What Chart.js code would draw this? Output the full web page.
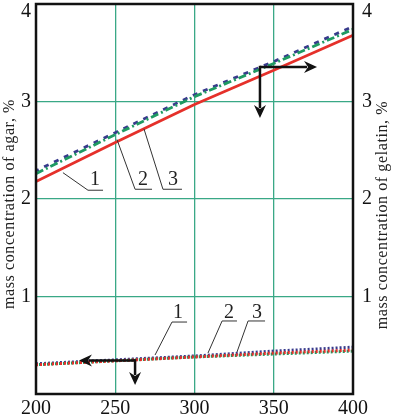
<!DOCTYPE html>
<html><head><meta charset="utf-8">
<script src="https://cdn.jsdelivr.net/npm/chart.js@4/dist/chart.umd.min.js"></script>
<style>html,body{margin:0;padding:0;background:#fff}#wrap{width:394px;height:416px}</style>
</head><body><div id="wrap"><canvas id="c" width="394" height="416"></canvas></div>
<script>
// ---- data ----
const temperature = [200, 250, 300, 350, 400];
const gelatin1 = [2.18, 2.58, 2.97, 3.32, 3.68];
const gelatin2 = [2.26, 2.66, 3.05, 3.39, 3.74];
const gelatin3 = [2.29, 2.68, 3.07, 3.41, 3.77];
const agar1 = [0.30, 0.34, 0.38, 0.42, 0.45];
const agar2 = [0.30, 0.34, 0.38, 0.41, 0.44];
const agar3 = [0.31, 0.35, 0.39, 0.44, 0.48];
const xTickValues = [200, 250, 300, 350, 400];
const yTickValues = [1, 2, 3, 4];
const leftTitle = 'mass concentration of agar, %';
const rightTitle = 'mass concentration of gelatin, %';
const curveNames = ['1', '2', '3'];

// annotation anchors, in data units (x, value)
const gelatinLeaders = [
  {start: [217, 2.27], elbow: [232.8, 2.09], end: 242.3, text: [237.2, 2.195]},
  {start: [251.1, 2.61], elbow: [262.5, 2.10], end: 273.2, text: [267.5, 2.195]},
  {start: [268.1, 2.72], elbow: [280.1, 2.10], end: 292.1, text: [286.4, 2.195]}
];
const agarLeaders = [
  {start: [275.1, 0.40], elbow: [285.8, 0.738], end: 295.3, text: [289.6, 0.83]},
  {start: [308.5, 0.42], elbow: [317.4, 0.749], end: 326.8, text: [321.8, 0.83]},
  {start: [326.8, 0.43], elbow: [333.8, 0.749], end: 344.5, text: [339.4, 0.83]}
];
const gelatinArrows = {origin: [341.3, 3.354], tipX: 377.3, tipY: 2.83};
const agarArrows = {origin: [262.5, 0.344], tipX: 227.1, tipY: 0.092};

const RED = '#e5302a', GREEN = '#1f9a62', NAVY = '#383a8c', GRID = '#3aa886';
const SERIF = '"Liberation Serif", "Times New Roman", serif';

function pts(vals){ return temperature.map((t,i)=>({x:t, y:vals[i]})); }

function arrowHead(ctx, x, y, dx, dy){
  const L = 13, W = 6, N = 9;
  const px = -dy, py = dx;
  ctx.beginPath();
  ctx.moveTo(x, y);
  ctx.lineTo(x - dx*L + px*W, y - dy*L + py*W);
  ctx.lineTo(x - dx*N, y - dy*N);
  ctx.lineTo(x - dx*L - px*W, y - dy*L - py*W);
  ctx.closePath();
  ctx.fill();
}

const decor = {
  id: 'decor',
  afterDatasetsDraw(chart){
    const {ctx, chartArea: a, scales} = chart;
    const x = scales.x, yl = scales.y, yr = scales.y1;
    ctx.save();
    // frame
    ctx.strokeStyle = '#111'; ctx.lineWidth = 2.5;
    ctx.strokeRect(a.left, a.top, a.right - a.left, a.bottom - a.top);
    // leaders + labels
    function leaders(list, ys){
      list.forEach((l, i) => {
        ctx.strokeStyle = '#333'; ctx.lineWidth = 1;
        ctx.beginPath();
        ctx.moveTo(x.getPixelForValue(l.start[0]), ys.getPixelForValue(l.start[1]));
        ctx.lineTo(x.getPixelForValue(l.elbow[0]), ys.getPixelForValue(l.elbow[1]));
        ctx.lineTo(x.getPixelForValue(l.end), ys.getPixelForValue(l.elbow[1]));
        ctx.stroke();
        ctx.fillStyle = '#222';
        ctx.font = '20px ' + SERIF;
        ctx.textAlign = 'center'; ctx.textBaseline = 'middle';
        ctx.fillText(curveNames[i], x.getPixelForValue(l.text[0]), ys.getPixelForValue(l.text[1]));
      });
    }
    leaders(gelatinLeaders, yr);
    leaders(agarLeaders, yl);
    // arrows
    function arrows(ar, ys){
      const ox = x.getPixelForValue(ar.origin[0]), oy = ys.getPixelForValue(ar.origin[1]);
      const tx = x.getPixelForValue(ar.tipX), ty = ys.getPixelForValue(ar.tipY);
      ctx.strokeStyle = '#111'; ctx.fillStyle = '#111'; ctx.lineWidth = 2.5;
      const hd = Math.sign(tx - ox);
      ctx.beginPath(); ctx.moveTo(ox, oy); ctx.lineTo(tx - hd*10, oy); ctx.stroke();
      arrowHead(ctx, tx, oy, hd, 0);
      ctx.beginPath(); ctx.moveTo(ox, oy - 1.2); ctx.lineTo(ox, ty - 10); ctx.stroke();
      arrowHead(ctx, ox, ty, 0, 1);
    }
    arrows(gelatinArrows, yr);
    arrows(agarArrows, yl);
    // axis titles, both reading bottom-to-top
    ctx.fillStyle = '#222';
    ctx.font = '16px ' + SERIF;
    if ('letterSpacing' in ctx) ctx.letterSpacing = '0.6px';
    ctx.textAlign = 'center'; ctx.textBaseline = 'middle';
    ctx.save(); ctx.translate(10, 204); ctx.rotate(-Math.PI/2); ctx.fillText(leftTitle, 0, 0); ctx.restore();
    ctx.save(); ctx.translate(383, 215); ctx.rotate(-Math.PI/2); ctx.fillText(rightTitle, 0, 0); ctx.restore();
    ctx.restore();
  }
};

function yTickLabel(v){
  if (!yTickValues.includes(v)) return '';
  return v === 4 ? ['', String(v)] : String(v);
}

new Chart(document.getElementById('c'), {
  type: 'line',
  data: {
    datasets: [
      {label: 'gelatin 1', data: pts(gelatin1), yAxisID: 'y1', borderColor: RED, borderWidth: 2.8},
      {label: 'gelatin 2', data: pts(gelatin2), yAxisID: 'y1', borderColor: GREEN, borderWidth: 2.8, borderDash: [8, 3, 2, 3]},
      {label: 'gelatin 3', data: pts(gelatin3), yAxisID: 'y1', borderColor: NAVY, borderWidth: 2.8, borderDash: [5, 6], borderDashOffset: 2},
      {label: 'agar 1', data: pts(agar1), yAxisID: 'y', borderColor: RED, borderWidth: 3, borderDash: [2, 2]},
      {label: 'agar 2', data: pts(agar2), yAxisID: 'y', borderColor: GREEN, borderWidth: 3, borderDash: [2, 2], borderDashOffset: 1},
      {label: 'agar 3', data: pts(agar3), yAxisID: 'y', borderColor: NAVY, borderWidth: 3, borderDash: [2, 2]}
    ]
  },
  options: {
    responsive: false, animation: false, devicePixelRatio: 1,
    layout: {padding: {top: 4, left: 0, right: 0, bottom: 0}},
    elements: {point: {radius: 0}, line: {tension: 0, fill: false}},
    plugins: {legend: {display: false}, tooltip: {enabled: false}},
    scales: {
      x: {
        type: 'linear', min: 200, max: 400,
        afterBuildTicks: s => { s.ticks = xTickValues.map(v => ({value: v})); },
        grid: {color: GRID, lineWidth: 1.3, drawTicks: false},
        border: {display: false},
        ticks: {font: {family: SERIF, size: 20}, color: '#111', padding: 3, maxRotation: 0, autoSkip: false},
        afterFit: s => { s.height = 22; s.paddingLeft = 0; s.paddingRight = 0; }
      },
      y: {
        position: 'left', min: 0, max: 4,
        ticks: {stepSize: 1, font: {family: SERIF, size: 20, lineHeight: 0.8}, color: '#111', padding: 5, callback: yTickLabel},
        grid: {color: GRID, lineWidth: 1.3, drawTicks: false},
        border: {display: false},
        afterFit: s => { s.width = 36; s.paddingTop = 0; s.paddingBottom = 0; }
      },
      y1: {
        position: 'right', min: 0, max: 4,
        ticks: {stepSize: 1, font: {family: SERIF, size: 20, lineHeight: 0.8}, color: '#111', padding: 9, callback: yTickLabel},
        grid: {display: false, drawTicks: false},
        border: {display: false},
        afterFit: s => { s.width = 41; s.paddingTop = 0; s.paddingBottom = 0; }
      }
    }
  },
  plugins: [decor]
});
</script>
</body></html>
